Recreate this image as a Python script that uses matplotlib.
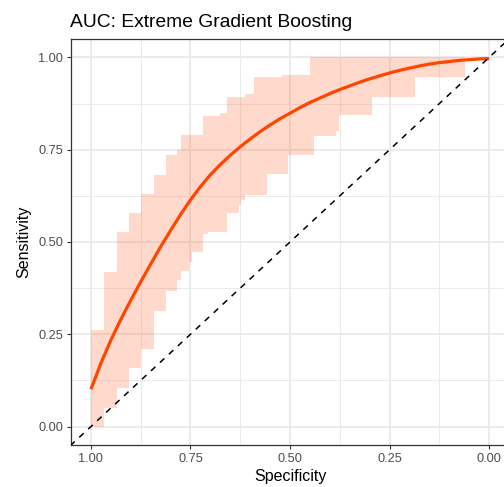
import numpy as np
import matplotlib
matplotlib.use("Agg")
import matplotlib.pyplot as plt

plt.rcParams['font.family'] = ['Liberation Sans', 'DejaVu Sans']

# smoothed ROC curve (specificity, sensitivity)
curva_spec = [1.000, 0.975, 0.950, 0.925, 0.900, 0.875, 0.850, 0.825, 0.800,
              0.775, 0.750, 0.725, 0.700, 0.675, 0.650, 0.625, 0.600, 0.575,
              0.550, 0.525, 0.500, 0.475, 0.450, 0.425, 0.400, 0.375, 0.350,
              0.325, 0.300, 0.275, 0.250, 0.225, 0.200, 0.175, 0.150, 0.125,
              0.100, 0.075, 0.050, 0.025, 0.000]
curva_sens = [0.101, 0.171, 0.234, 0.290, 0.342, 0.392, 0.440, 0.487, 0.531,
              0.574, 0.614, 0.650, 0.682, 0.710, 0.735, 0.758, 0.779, 0.799,
              0.817, 0.834, 0.849, 0.864, 0.878, 0.890, 0.902, 0.913, 0.923,
              0.933, 0.942, 0.950, 0.958, 0.965, 0.971, 0.977, 0.982, 0.986,
              0.989, 0.992, 0.994, 0.996, 0.997]

# confidence band of sensitivity, stepwise over specificity
banda_spec = [1.000, 0.967, 0.935, 0.905, 0.875, 0.842, 0.811, 0.783, 0.773,
              0.754, 0.747, 0.719, 0.707, 0.676, 0.657, 0.629, 0.622, 0.612,
              0.591, 0.559, 0.520, 0.506, 0.451, 0.439, 0.384, 0.378, 0.293,
              0.187, 0.061, 0.000]
banda_inf = [0.000, 0.050, 0.104, 0.158, 0.210, 0.313, 0.367, 0.397, 0.421,
             0.447, 0.474, 0.523, 0.528, 0.528, 0.578, 0.600, 0.614, 0.627,
             0.627, 0.684, 0.684, 0.735, 0.735, 0.787, 0.800, 0.845, 0.893,
             0.947, 1.000, 1.000]
banda_sup = [0.262, 0.420, 0.527, 0.578, 0.631, 0.682, 0.735, 0.749, 0.790,
             0.790, 0.790, 0.841, 0.841, 0.850, 0.893, 0.893, 0.893, 0.900,
             0.947, 0.947, 0.952, 0.952, 1.000, 1.000, 1.000, 1.000, 1.000,
             1.000, 1.000, 1.000]

ticks = [1.00, 0.75, 0.50, 0.25, 0.00]
ticks_menores = [0.875, 0.625, 0.375, 0.125]
etiquetas = ["1.00", "0.75", "0.50", "0.25", "0.00"]

color = "#FF4500"

fig = plt.figure(figsize=(5.04, 4.87), dpi=100)
ax = fig.add_axes([71 / 504, 42 / 487, 438 / 504, 406 / 487])

ax.fill_between(banda_spec, banda_inf, banda_sup, step="post",
                color=color, alpha=0.2, linewidth=0, zorder=2)
ax.plot(curva_spec, curva_sens, color=color, linewidth=2.3,
        solid_capstyle="butt", solid_joinstyle="round", zorder=3)
ax.axline((1, 0), (0, 1), color="black", linewidth=1.1,
          linestyle=(0, (4, 4)), zorder=4)

ax.set_xlim(1.05, -0.05)
ax.set_ylim(-0.05, 1.05)

ax.set_xticks(ticks)
ax.set_xticklabels(etiquetas)
ax.set_yticks(ticks[::-1])
ax.set_yticklabels(etiquetas[::-1])
ax.set_xticks(ticks_menores, minor=True)
ax.set_yticks(ticks_menores, minor=True)

ax.grid(which="major", color="#EBEBEB", linewidth=1.4, zorder=0)
ax.grid(which="minor", color="#EBEBEB", linewidth=0.7, zorder=0)
ax.set_axisbelow(True)

for lado in ax.spines.values():
    lado.set_color("#333333")
    lado.set_linewidth(0.9)

ax.tick_params(which="major", length=3, width=0.8, color="#333333",
               labelsize=9.2, labelcolor="#4D4D4D", pad=2.5)
ax.tick_params(which="minor", length=0)

ax.set_xlabel("Specificity", fontsize=11.5, labelpad=3)
ax.set_ylabel("Sensitivity", fontsize=11.5, labelpad=5)
fig.text(70 / 504, 1 - 27 / 487, "AUC: Extreme Gradient Boosting",
         fontsize=13.9, ha="left", va="baseline")

fig.savefig("out.png", dpi=100)
